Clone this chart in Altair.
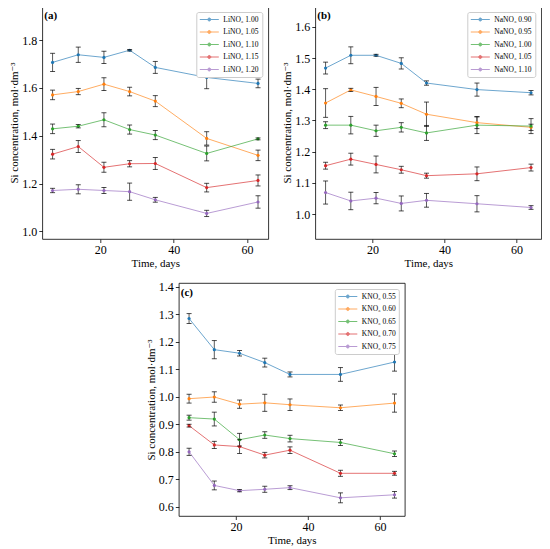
import altair as alt
import pandas as pd

TAB = ["#1f77b4", "#ff7f0e", "#2ca02c", "#d62728", "#9467bd"]
FONT = "Liberation Serif, Times New Roman, DejaVu Serif, serif"

# ---------------- data ----------------
days_a = [7, 14, 21, 28, 35, 49, 63]
days_b = [7, 14, 21, 28, 35, 49, 64]
days_c = [7, 14, 21, 28, 35, 49, 64]

names_a = ["LiNO₃ 1.00", "LiNO₃ 1.05", "LiNO₃ 1.10", "LiNO₃ 1.15", "LiNO₃ 1.20"]
vals_a = [
    [1.707, 1.739, 1.728, 1.758, 1.686, 1.644, 1.619],
    [1.571, 1.585, 1.616, 1.585, 1.545, 1.389, 1.318],
    [1.429, 1.440, 1.467, 1.426, 1.403, 1.326, 1.387],
    [1.323, 1.355, 1.268, 1.283, 1.284, 1.183, 1.213],
    [1.171, 1.176, 1.171, 1.166, 1.132, 1.075, 1.123],
]
errs_a = [
    [0.038, 0.032, 0.026, 0.003, 0.025, 0.047, 0.018],
    [0.020, 0.013, 0.027, 0.018, 0.023, 0.028, 0.022],
    [0.020, 0.007, 0.029, 0.019, 0.019, 0.031, 0.004],
    [0.020, 0.025, 0.021, 0.013, 0.025, 0.018, 0.023],
    [0.009, 0.019, 0.013, 0.036, 0.010, 0.013, 0.026],
]

names_b = ["NaNO₃ 0.90", "NaNO₃ 0.95", "NaNO₃ 1.00", "NaNO₃ 1.05", "NaNO₃ 1.10"]
vals_b = [
    [1.468, 1.509, 1.509, 1.483, 1.420, 1.399, 1.389],
    [1.356, 1.398, 1.377, 1.355, 1.320, 1.293, 1.278],
    [1.285, 1.285, 1.267, 1.278, 1.260, 1.285, 1.282],
    [1.155, 1.176, 1.159, 1.142, 1.123, 1.129, 1.149],
    [1.069, 1.042, 1.051, 1.034, 1.044, 1.033, 1.021],
]
errs_b = [
    [0.019, 0.027, 0.003, 0.018, 0.007, 0.021, 0.007],
    [0.046, 0.005, 0.029, 0.014, 0.039, 0.019, 0.010],
    [0.011, 0.028, 0.018, 0.015, 0.024, 0.027, 0.024],
    [0.011, 0.019, 0.027, 0.011, 0.008, 0.022, 0.011],
    [0.037, 0.028, 0.018, 0.024, 0.022, 0.026, 0.006],
]

names_c = ["KNO₃ 0.55", "KNO₃ 0.60", "KNO₃ 0.65", "KNO₃ 0.70", "KNO₃ 0.75"]
vals_c = [
    [1.284, 1.171, 1.158, 1.124, 1.081, 1.081, 1.126],
    [0.993, 0.999, 0.973, 0.978, 0.971, 0.960, 0.977],
    [0.924, 0.919, 0.844, 0.861, 0.848, 0.834, 0.793],
    [0.895, 0.825, 0.819, 0.788, 0.806, 0.722, 0.722],
    [0.800, 0.678, 0.659, 0.664, 0.670, 0.633, 0.644],
]
errs_c = [
    [0.018, 0.033, 0.010, 0.016, 0.009, 0.025, 0.033],
    [0.016, 0.019, 0.015, 0.031, 0.021, 0.010, 0.033],
    [0.009, 0.025, 0.023, 0.012, 0.012, 0.011, 0.010],
    [0.005, 0.013, 0.025, 0.010, 0.012, 0.011, 0.007],
    [0.013, 0.016, 0.004, 0.011, 0.007, 0.018, 0.012],
]

ydom_a = [0.968, 1.943]
ydom_b = [0.920, 1.667]
ydom_c = [0.567, 1.413]
yticks_a = [1.0, 1.2, 1.4, 1.6, 1.8]
yticks_b = [1.0, 1.1, 1.2, 1.3, 1.4, 1.5, 1.6]
yticks_c = [0.6, 0.7, 0.8, 0.9, 1.0, 1.1, 1.2, 1.3, 1.4]
xticks = [20, 40, 60]

YTITLE = "Si concentration, mol·dm⁻³"
XTITLE = "Time, days"

LEG_SYMBOL = "M-1,0H3.75M1,0A0.375,0.375,0,1,1,1.75,0A0.375,0.375,0,1,1,1,0Z"


def panel(days, names, vals, errs, ydom, yticks, label):
    rows = []
    for n, vs, es in zip(names, vals, errs):
        for d, v, e in zip(days, vs, es):
            rows.append({"series": n, "day": d, "val": v, "lo": v - e, "hi": v + e})
    df = pd.DataFrame(rows)
    span = days[-1] - days[0]
    xdom = [days[0] - 0.05 * span, days[-1] + 0.05 * span]

    xs = alt.Scale(domain=xdom, nice=False, zero=False)
    ys = alt.Scale(domain=ydom, nice=False, zero=False)
    xax = alt.Axis(values=xticks, title=XTITLE, format="d")
    yax = alt.Axis(values=yticks, title=YTITLE, format=".1f")
    x = alt.X("day:Q", scale=xs, axis=xax)
    legend = alt.Legend(
        title=None, orient="top-right", offset=6, fillColor="white",
        strokeColor="#cccccc", cornerRadius=2, padding=3,
        labelFont=FONT, labelFontSize=7.5, labelColor="black", labelLimit=200,
        symbolType=LEG_SYMBOL, symbolSize=64, symbolStrokeWidth=1,
        labelOffset=15, rowPadding=3.5,
    )
    color = alt.Color("series:N", scale=alt.Scale(domain=names, range=TAB), legend=legend)

    base = alt.Chart(df)
    rule = base.mark_rule(color="#333333", strokeWidth=1, opacity=0.8).encode(
        x=x, y=alt.Y("lo:Q", scale=ys, axis=yax), y2="hi:Q")
    line = base.mark_line(strokeWidth=1, opacity=0.65).encode(
        x=x, y=alt.Y("val:Q", scale=ys, axis=yax), color=color)
    pts = base.mark_point(filled=True, size=10, opacity=1).encode(
        x=x, y=alt.Y("val:Q", scale=ys, axis=yax), color=color)
    cap_lo = base.mark_tick(orient="horizontal", size=5, thickness=1, color="black").encode(
        x=x, y=alt.Y("lo:Q", scale=ys, axis=yax))
    cap_hi = base.mark_tick(orient="horizontal", size=5, thickness=1, color="black").encode(
        x=x, y=alt.Y("hi:Q", scale=ys, axis=yax))
    lab = alt.Chart(pd.DataFrame({"t": [label]})).mark_text(
        align="left", baseline="middle", font=FONT, fontSize=11,
        fontWeight="bold", color="black").encode(
        x=alt.value(2), y=alt.value(10), text="t:N")
    return alt.layer(rule, line, pts, cap_lo, cap_hi, lab).properties(width=226, height=233)


pa = panel(days_a, names_a, vals_a, errs_a, ydom_a, yticks_a, "(a)")
pb = panel(days_b, names_b, vals_b, errs_b, ydom_b, yticks_b, "(b)")
pc = panel(days_c, names_c, vals_c, errs_c, ydom_c, yticks_c, "(c)")

top = alt.hconcat(pa, pb, spacing=12).resolve_scale(color="independent")
chart = alt.vconcat(top, pc, spacing=11, center=True).resolve_scale(color="independent")

chart = chart.configure_view(stroke="black", strokeWidth=0.8).configure_axis(
    domain=False, grid=False, labelFont=FONT, labelFontSize=12, labelColor="black",
    titleFont=FONT, titleFontSize=11, titleFontWeight="normal", titleColor="black",
    tickColor="black", tickSize=3.5, tickWidth=0.8, labelPadding=2, titlePadding=2,
)

try:
    c2 = chart.properties(padding={"top": -3, "left": 0, "right": 0, "bottom": 0})
    c2.to_dict()
    chart = c2
except Exception:
    chart = chart.properties(padding={"top": 0, "left": 0, "right": 0, "bottom": 0})

chart.save("out.html", embed_options={"renderer": "svg", "actions": False})
